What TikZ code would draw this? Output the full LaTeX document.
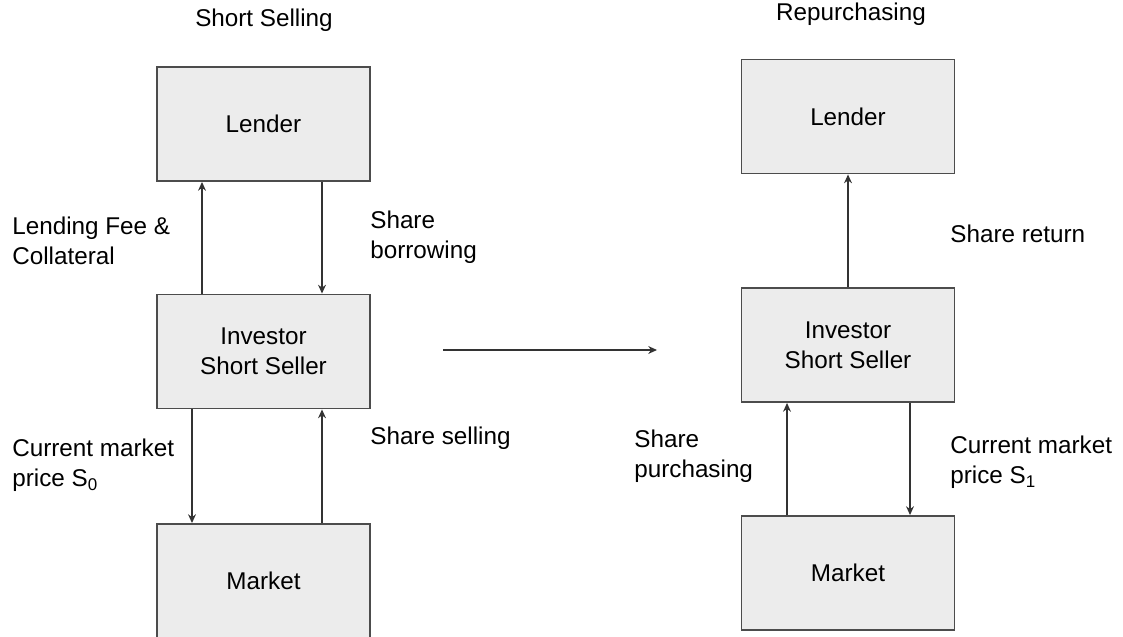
\documentclass[tikz,border=0pt]{standalone}
\usepackage{fontspec}
\setmainfont{Liberation Sans}
\usetikzlibrary{arrows.meta}
\begin{document}
\begin{tikzpicture}[
    font=\fontsize{13.8pt}{17pt}\selectfont,
    box/.style={rectangle, draw=black!70, line width=1.1pt, fill=gray!15, minimum width=4.26cm, minimum height=2.28cm, align=center},
    lbl/.style={anchor=west, align=left, inner sep=0pt},
    arrow/.style={->, >={Stealth[length=5pt, width=4.5pt]}, line width=0.6pt, draw=black!80}
]
\useasboundingbox (0,0) rectangle (22.46,-12.74);

% Short selling side
\node (title1) at (5.28, -0.4) {Short Selling};
\node[box] (lender1) at (5.27, -2.48) {Lender};
\node[box] (investor1) at (5.27, -7.03) {Investor\\Short Seller};
\node[box] (market1) at (5.27, -11.62) {Market};

% Repurchasing side
\node (title2) at (17.02, -0.28) {Repurchasing};
\node[box] (lender2) at (16.96, -2.33) {Lender};
\node[box] (investor2) at (16.96, -6.9) {Investor\\Short Seller};
\node[box] (market2) at (16.96, -11.46) {Market};

% Labels
\node[lbl] (fee) at (0.24, -4.82) {Lending Fee \&\\Collateral};
\node[lbl] (borrow) at (7.4, -4.74) {Share\\borrowing};
\node[lbl] (price0) at (0.24, -9.3) {Current market\\price S\textsubscript{0}};
\node[lbl] (sell) at (7.4, -8.76) {Share selling};
\node[lbl] (return) at (19.0, -4.68) {Share return};
\node[lbl] (purchase) at (12.68, -9.12) {Share\\purchasing};
\node[lbl] (price1) at (19.0, -9.24) {Current market\\price S\textsubscript{1}};

% Arrows, left
\draw[arrow] ([xshift=-1.23cm]investor1.north) -- ([xshift=-1.23cm]lender1.south);
\draw[arrow] ([xshift=1.17cm]lender1.south) -- ([xshift=1.17cm]investor1.north);
\draw[arrow] ([xshift=-1.43cm]investor1.south) -- ([xshift=-1.43cm]market1.north);
\draw[arrow] ([xshift=1.17cm]market1.north) -- ([xshift=1.17cm]investor1.south);

% From one stage to the next
\coordinate (go) at (8.86, -7.0);
\coordinate (stop) at (13.14, -7.0);
\draw[arrow] (go) -- (stop);

% Arrows, right
\draw[arrow] (investor2.north) -- (lender2.south);
\draw[arrow] ([xshift=-1.22cm]market2.north) -- ([xshift=-1.22cm]investor2.south);
\draw[arrow] ([xshift=1.24cm]investor2.south) -- ([xshift=1.24cm]market2.north);

\end{tikzpicture}
\end{document}
